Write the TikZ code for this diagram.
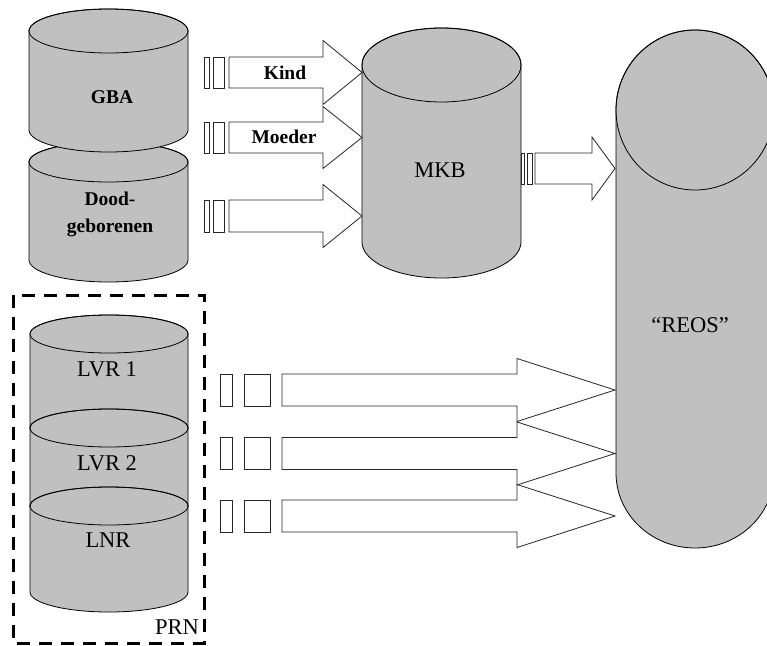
\documentclass[tikz,border=0pt]{standalone}
\usepackage{fontspec}
\setmainfont{Liberation Serif}
\definecolor{cylgray}{RGB}{192,192,192}
\tikzset{
  cylst/.style={draw=black, fill=cylgray, line width=0.8pt},
  arrst/.style={draw=black!85, fill=white, line width=0.8pt, line join=miter},
  boldlbl/.style={font=\fontsize{19.5}{27}\selectfont\bfseries, inner sep=0pt, align=center},
  reglbl/.style={font=\fontsize{22.5}{26}\selectfont, inner sep=0pt},
  prnbox/.style={draw=black, line width=3pt, dash pattern=on 13pt off 9pt}
}
% cx rx ytop rytop ybot rybot (y measured downward)
\newcommand{\cylbody}[6]{%
  \filldraw[cylst] (#1-#2,-#3) -- (#1-#2,-#5) arc[start angle=180,end angle=360,x radius=#2,y radius=#6] -- (#1+#2,-#3) arc[start angle=0,end angle=180,x radius=#2,y radius=#4] -- cycle;
  \draw[cylst, fill=none] (#1,-#3) ellipse[x radius=#2,y radius=#4];}
% xs xb xt yc shafthalf headhalf
\newcommand{\blockarrow}[6]{%
  \filldraw[arrst] (#1,-#4+#5) -- (#2,-#4+#5) -- (#2,-#4+#6) -- (#3,-#4) -- (#2,-#4-#6) -- (#2,-#4-#5) -- (#1,-#4-#5) -- cycle;}
% x1 x2 yc half
\newcommand{\smallrect}[4]{%
  \filldraw[arrst] (#1,-#3+#4) rectangle (#2,-#3-#4);}
\begin{document}
\begin{tikzpicture}[x=1pt,y=1pt]
\useasboundingbox (0,0) rectangle (767,-645);
% cylinders
\cylbody{108.5}{79.5}{162}{20}{260}{22}
\cylbody{108.5}{79.5}{31}{22}{130}{22}
\cylbody{441.5}{79.5}{65}{37}{242}{36}
\cylbody{109}{79}{334}{19}{428}{19}
\cylbody{109}{79}{428}{19}{506}{19}
\cylbody{109}{79}{506}{19}{592}{20}
\cylbody{695}{79}{110}{80}{473}{75}
% top arrows
\smallrect{204}{209}{72.5}{15.5}\smallrect{213}{224}{72.5}{15.5}
\blockarrow{229}{323}{362}{72.5}{15.5}{32}
\smallrect{204}{209}{137.5}{15.5}\smallrect{213}{224}{137.5}{15.5}
\blockarrow{229}{323}{362}{137.5}{15.5}{31}
\smallrect{204}{209}{216}{16}\smallrect{213}{224}{216}{16}
\blockarrow{229}{323}{362}{216}{16}{31.5}
% MKB -> REOS
\smallrect{521}{524}{168.5}{15.5}\smallrect{527}{532}{168.5}{15.5}
\blockarrow{535}{592}{615}{168.5}{15.5}{31.5}
% bottom arrows
\smallrect{220}{232}{390}{16}\smallrect{244}{270}{390}{16}
\blockarrow{282}{517}{615}{390}{16}{31.5}
\smallrect{220}{232}{453.5}{16}\smallrect{244}{270}{453.5}{16}
\blockarrow{282}{517}{615}{453.5}{16}{31.5}
\smallrect{220}{232}{516}{16}\smallrect{244}{270}{516}{16}
\blockarrow{282}{517}{615}{516}{16}{31.5}
% PRN box
\draw[prnbox] (13,-295) rectangle (204,-643);
% labels
\node[boldlbl] (gba) at (112,-97) {GBA};
\node[boldlbl] (dood) at (110,-214) {Dood-\\geborenen};
\node[boldlbl] (kind) at (285,-73) {Kind};
\node[boldlbl] (moeder) at (284,-137) {Moeder};
\node[reglbl] (mkb) at (440,-170) {MKB};
\node[reglbl] (reos) at (690,-325) {“REOS”};
\node[reglbl] (lvr1) at (107,-369) {LVR 1};
\node[reglbl] (lvr2) at (107,-463) {LVR 2};
\node[reglbl] (lnr) at (108,-540) {LNR};
\node[reglbl, anchor=east] (prn) at (199,-627) {PRN};
\end{tikzpicture}
\end{document}
